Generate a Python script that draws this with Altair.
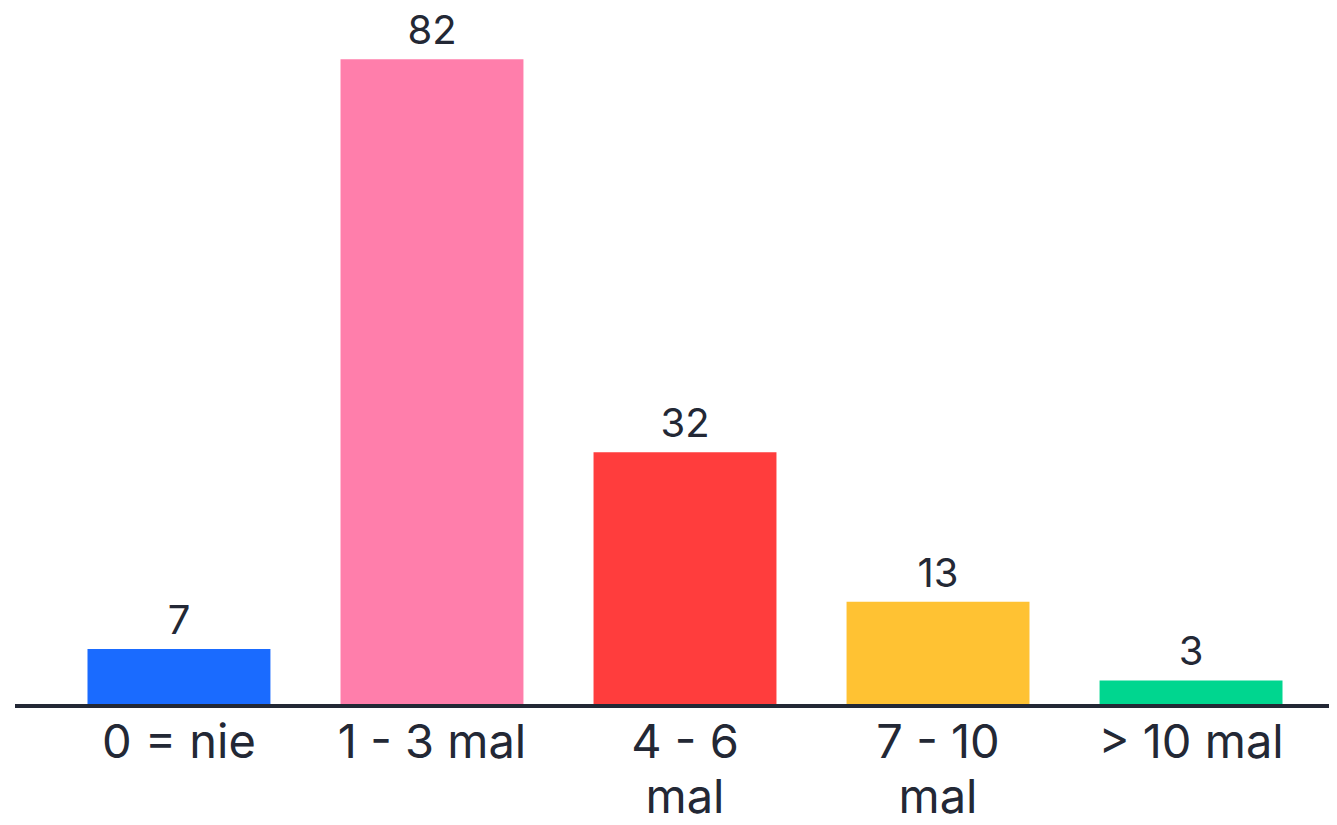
import altair as alt
import pandas as pd

categories = ["0 = nie", "1 - 3 mal", "4 - 6 mal", "7 - 10 mal", "> 10 mal"]
values = [7, 82, 32, 13, 3]
colors = ["#1A6BFF", "#FF7EAB", "#FF3D3D", "#FFC233", "#00D68F"]

df = pd.DataFrame({"cat": categories, "val": values, "col": colors})

x = alt.X("cat:N", sort=categories, title=None,
          scale=alt.Scale(range=[72.5, 1267.5], paddingInner=0.277, paddingOuter=0),
          axis=alt.Axis(labelAngle=0, ticks=False, domain=False,
                        labelFont="Inter", labelFontSize=47, labelColor="#232835",
                        labelPadding=16, labelLineHeight=55, labelLimit=400,
                        labelExpr="indexof(['4 - 6 mal','7 - 10 mal'], datum.value) >= 0 ? [replace(datum.value, ' mal', ''), 'mal'] : datum.value"))
y = alt.Y("val:Q", title=None, scale=alt.Scale(domain=[0, 88.0], nice=False, zero=True),
          axis=None)

bars = alt.Chart(df).mark_bar().encode(x=x, y=y, color=alt.Color("col:N", scale=None))
text = alt.Chart(df).mark_text(font="Inter", fontSize=40, color="#232835", dy=-15,
                               baseline="alphabetic").encode(
    x=alt.X("cat:N", sort=categories), y="val:Q", text="val:Q")
baseline = alt.Chart(df).mark_rule(color="#232835", strokeWidth=4).encode(
    x=alt.value(0), x2=alt.value(1314), y=alt.value(694))

chart = (bars + text + baseline).properties(
    width=1314, height=692,
    padding={"left": 7, "top": 4, "right": 0, "bottom": 121},
    autosize="none",
).configure(background="white").configure_view(stroke="transparent", strokeWidth=0)

chart.save("out.html", embed_options={"renderer": "svg", "actions": False})
